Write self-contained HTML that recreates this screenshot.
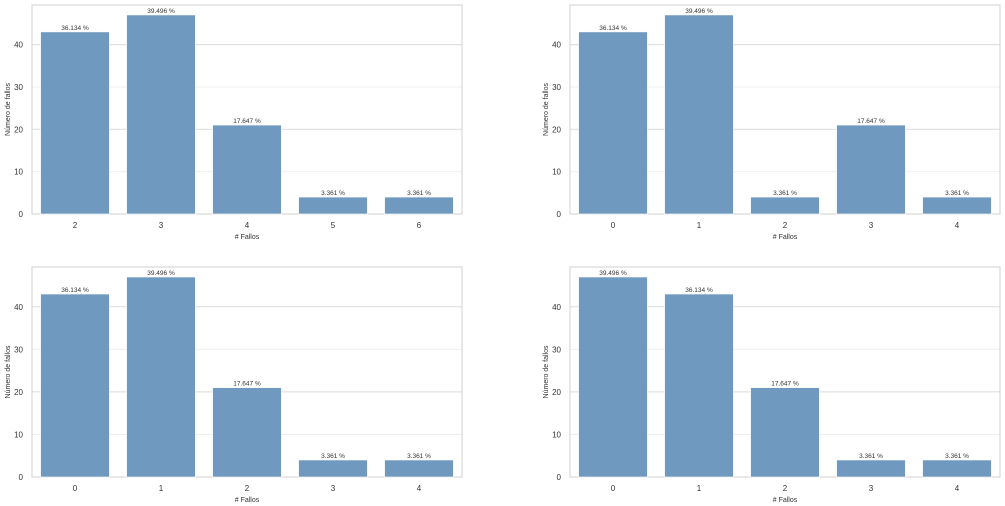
<!DOCTYPE html>
<html><head><meta charset="utf-8"><style>
body{margin:0;background:#fff;width:1005px;height:506px;overflow:hidden;font-family:"Liberation Sans",sans-serif}
svg{position:absolute;left:0;top:0}
text{fill:#333}
</style></head><body>
<svg id="s" width="1005" height="506"></svg>
<script>
const cats1=["2","3","4","5","6"];
const vals1=[43,47,21,4,4];
const labs1=["36.134 %","39.496 %","17.647 %","3.361 %","3.361 %"];
const cats2=["0","1","2","3","4"];
const vals2=[43,47,4,21,4];
const labs2=["36.134 %","39.496 %","3.361 %","17.647 %","3.361 %"];
const cats3=["0","1","2","3","4"];
const vals3=[43,47,21,4,4];
const labs3=["36.134 %","39.496 %","17.647 %","3.361 %","3.361 %"];
const cats4=["0","1","2","3","4"];
const vals4=[47,43,21,4,4];
const labs4=["39.496 %","36.134 %","17.647 %","3.361 %","3.361 %"];
const yTicks=[0,10,20,30,40];
const NS="http://www.w3.org/2000/svg";
const svg=document.getElementById('s');
function mk(t,a,p){const e=document.createElementNS(NS,t);for(const k in a)e.setAttribute(k,a[k]);(p||svg).appendChild(e);return e;}
function panel(L,T,R,B,cats,vals,labs,name){
  const g=mk('g',{});
  
  
  const ymax=Math.max(...vals)*1.05;
  const y=v=>B-v/ymax*(B-T);
  const step=(R-L)/cats.length;
  const x=i=>L+step*(i+0.5);
  yTicks.forEach(t=>{
    const gl=mk('line',{x1:L,x2:R,y1:y(t),y2:y(t),stroke:t%20==0?'#dcdcdc':'#efefef','stroke-width':1},g);
    
    
    const tl=mk('text',{x:L-9,y:y(t)+3,'font-size':8,'text-anchor':'end'},g);tl.textContent=t;
    
    
  });
  const fr=mk('rect',{x:L,y:T,width:R-L,height:B-T,fill:'none',stroke:'#d0d0d0','stroke-width':1},g);
  
  
  const bw=step*0.8;
  vals.forEach((v,i)=>{
    const r=mk('rect',{x:x(i)-bw/2,y:y(v),width:bw,height:B-y(v),fill:'#7099bf',stroke:'#fff','stroke-width':0.6},g);
    
    
    const lt=mk('text',{x:x(i),y:y(v)-2,'font-size':6.5,'text-anchor':'middle'},g);lt.textContent=labs[i];
    
    
    const xt=mk('text',{x:x(i),y:B+14,'font-size':8,'text-anchor':'middle'},g);xt.textContent=cats[i];
    
    
  });
  const xl=mk('text',{x:(L+R)/2,y:B+25,'font-size':7,'text-anchor':'middle'},g);xl.textContent='# Fallos';
  
  
  const yl=mk('text',{x:0,y:0,'font-size':7,'text-anchor':'middle',transform:`translate(${L-22},${(T+B)/2}) rotate(-90)`},g);yl.textContent='Número de fallos';
  
  
}
panel(32,5,462,214,cats1,vals1,labs1,'chart-top-left');
panel(570,5,1000,214,cats2,vals2,labs2,'chart-top-right');
panel(32,267,462,477,cats3,vals3,labs3,'chart-bottom-left');
panel(570,267,1000,477,cats4,vals4,labs4,'chart-bottom-right');
</script>
</body></html>
